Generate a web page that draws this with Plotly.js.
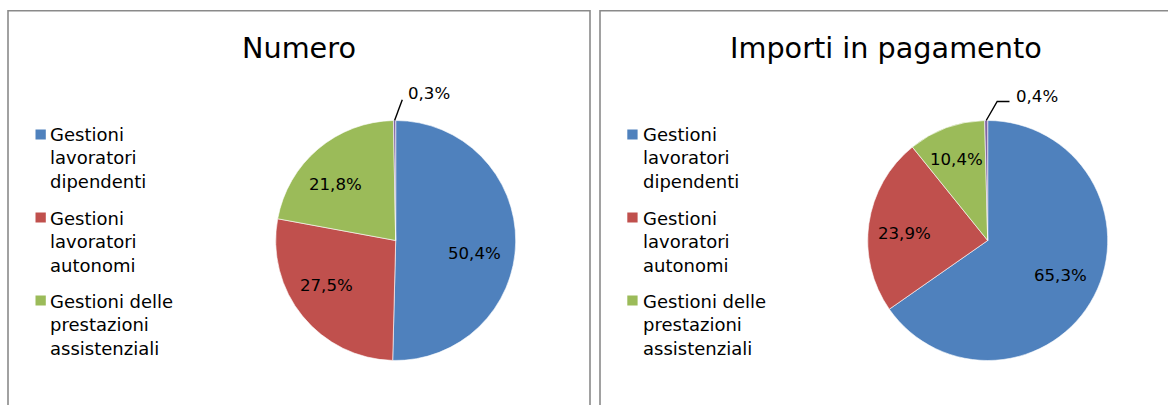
<!DOCTYPE html>
<html>
<head>
<meta charset="utf-8">
<script src="https://cdn.plot.ly/plotly-3.0.1.min.js"></script>
<style>html,body{margin:0;padding:0;background:#fff;}#chart{width:1168px;height:405px;}</style>
</head>
<body>
<div id="chart"></div>
<script>
// ---- data ----
const categories = ['Gestioni lavoratori dipendenti', 'Gestioni lavoratori autonomi', 'Gestioni delle prestazioni assistenziali', 'Altre gestioni'];
const legendLabels = ['Gestioni<br>lavoratori<br>dipendenti', 'Gestioni<br>lavoratori<br>autonomi', 'Gestioni delle<br>prestazioni<br>assistenziali'];
const numeroValues = [50.4, 27.5, 21.8, 0.3];
const importiValues = [65.3, 23.9, 10.4, 0.4];
const chartTitles = ['Numero', 'Importi in pagamento'];
const sliceColors = ['#4F81BD', '#C0504D', '#9BBB59', '#8064A2'];

// ---- layout helpers ----
const W = 1168, H = 405;
const FONT = 'DejaVu Sans, Verdana, sans-serif';
const px = v => v / W;
const py = v => 1 - v / H;
const fmt = v => v.toFixed(1).replace('.', ',') + '%';

const panels = [
  {values: numeroValues, title: chartTitles[0], box: [8, 590], titleX: 298.5,
   cx: 395.7, cy: 240.5, r: 120, legendX: 48, swatchX: 35.5,
   labelR: 0.68, nudge: [[-3, 11.5], [-6, -6], [-7, 6.5]],
   leader: [[7.7, -20.7]], textOff: [4, -6]},
  {values: importiValues, title: chartTitles[1], box: [600, 1200], titleX: 886,
   cx: 987.7, cy: 240.5, r: 120, legendX: 641, swatchX: 627.3,
   labelR: 0.68, nudge: [[0, -3], [-2, 4], [-3, -4]],
   leader: [[11, -19], [12.3, 0]], textOff: [5, -5]}
];

const data = [];
const shapes = [];
const annotations = [];

panels.forEach((p, k) => {
  const n = p.values.length;
  const total = p.values.reduce((a, b) => a + b, 0);
  data.push({
    type: 'pie',
    labels: categories,
    values: p.values,
    sort: false,
    direction: 'clockwise',
    rotation: 0,
    textinfo: 'none',
    marker: {colors: sliceColors, line: {color: '#ffffff', width: 0.6}},
    domain: {x: [px(p.cx - p.r), px(p.cx + p.r)], y: [py(p.cy + p.r), py(p.cy - p.r)]},
    showlegend: false,
    hoverinfo: 'label+percent'
  });

  // panel border
  shapes.push({type: 'rect', xref: 'paper', yref: 'paper',
    x0: px(p.box[0]), x1: px(p.box[1]), y0: -0.2, y1: py(10.8),
    line: {color: '#8a8a8a', width: 1.6}, fillcolor: 'rgba(0,0,0,0)', layer: 'below'});

  // title
  annotations.push({xref: 'paper', yref: 'paper', x: px(p.titleX), y: py(48),
    xanchor: 'center', yanchor: 'middle', showarrow: false, text: p.title,
    font: {family: FONT, size: 28.7, color: '#000'}});

  // legend (first three categories)
  legendLabels.forEach((lab, i) => {
    const top = 129.5 + i * 83;
    shapes.push({type: 'rect', xref: 'paper', yref: 'paper',
      x0: px(p.swatchX), x1: px(p.swatchX + 10.3), y0: py(top + 10), y1: py(top),
      line: {width: 0}, fillcolor: sliceColors[i]});
    annotations.push({xref: 'paper', yref: 'paper', x: px(p.legendX), y: py(158.5 + i * 83),
      xanchor: 'left', yanchor: 'middle', align: 'left', showarrow: false, text: lab,
      font: {family: FONT, size: 18, color: '#000'}});
  });

  // percentage labels placed along each slice's mid angle
  let cum = 0;
  p.values.forEach((v, i) => {
    const mid = (cum + v / 2) / total * 2 * Math.PI;
    cum += v;
    if (i === n - 1) return;
    const lx = p.cx + p.r * p.labelR * Math.sin(mid) + p.nudge[i][0];
    const ly = p.cy - p.r * p.labelR * Math.cos(mid) + p.nudge[i][1];
    annotations.push({xref: 'paper', yref: 'paper', x: px(lx), y: py(ly),
      xanchor: 'center', yanchor: 'middle', showarrow: false, text: fmt(v),
      font: {family: FONT, size: 16.6, color: '#000'}});
  });

  // leader line + label for the last (tiny) slice
  const before = p.values.slice(0, n - 1).reduce((a, b) => a + b, 0);
  const mid = (before + p.values[n - 1] / 2) / total * 2 * Math.PI;
  let x = p.cx + p.r * Math.sin(mid), y = p.cy - p.r * Math.cos(mid);
  let path = 'M' + px(x) + ',' + py(y);
  p.leader.forEach(([dx, dy]) => { x += dx; y += dy; path += ' L' + px(x) + ',' + py(y); });
  shapes.push({type: 'path', xref: 'paper', yref: 'paper', path: path,
    line: {color: '#000', width: 1.4}});
  annotations.push({xref: 'paper', yref: 'paper', x: px(x + p.textOff[0]), y: py(y + p.textOff[1]),
    xanchor: 'left', yanchor: 'middle', showarrow: false, text: fmt(p.values[n - 1]),
    font: {family: FONT, size: 16.6, color: '#000'}});
});

const layout = {
  width: W, height: H,
  margin: {l: 0, r: 0, t: 0, b: 0},
  paper_bgcolor: '#ffffff',
  showlegend: false,
  shapes: shapes,
  annotations: annotations,
  font: {family: FONT}
};

Plotly.newPlot('chart', data, layout, {displayModeBar: false, staticPlot: true});
</script>
</body>
</html>
